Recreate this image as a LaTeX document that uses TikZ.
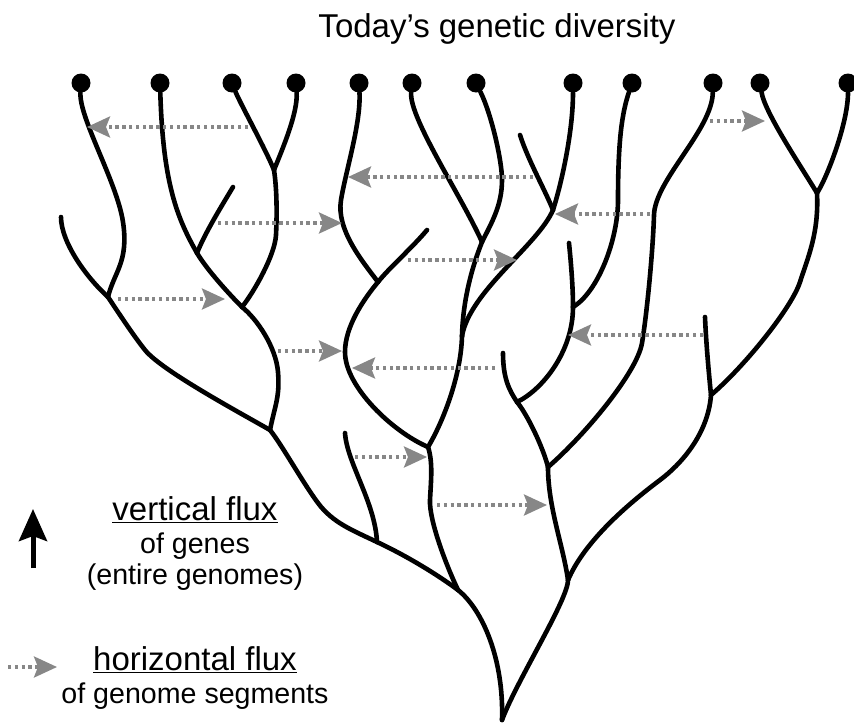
\documentclass[tikz,border=0pt]{standalone}
\usepackage{fontspec}
\setmainfont{Liberation Sans}
\usepackage{tikz}
\usetikzlibrary{arrows.meta}
\definecolor{fluxgray}{RGB}{135,135,135}

\begin{document}
\begin{tikzpicture}[x=1pt, y=-1pt,
    branch/.style={line width=4.6pt, line cap=round, line join=round},
    leaf/.style={circle, fill=black, inner sep=0pt, minimum size=19pt},
    flux/.style={fluxgray, line width=3.4pt, dash pattern=on 3.4pt off 3.4pt,
                 -{Stealth[length=23pt, width=21pt, inset=4pt]}},
    bigtxt/.style={font=\fontsize{33}{40}\selectfont, inner sep=0pt, anchor=base},
    smalltxt/.style={font=\fontsize{28.6}{34}\selectfont, inner sep=0pt, anchor=base}
  ]
  \useasboundingbox (0,0) rectangle (854,723);

  \node[bigtxt] (title) at (497,37) {Today’s genetic diversity};

  % today's lineages
  \foreach \i/\x in {1/81,2/160,3/232,4/296,5/359,6/412,7/476,8/573,9/632,10/713,11/760,12/848}
    \node[leaf] (l\i) at (\x,83) {};

  % extinct stubs
  \coordinate (s1) at (61,217);
  \coordinate (s2) at (233,187);
  \coordinate (s3) at (345,433);
  \coordinate (s4) at (427,230);
  \coordinate (s5) at (520,135);
  \coordinate (s6) at (569,243);
  \coordinate (s7) at (503,353);
  \coordinate (s8) at (705,317);

  % forks
  \coordinate (bA) at (108,297);
  \coordinate (bB) at (270,430);
  \coordinate (bC) at (377,542);
  \coordinate (bD) at (458,590);
  \coordinate (bE) at (428,447);
  \coordinate (bF) at (242,307);
  \coordinate (bG) at (197,253);
  \coordinate (bH) at (274,170);
  \coordinate (bI) at (378,282);
  \coordinate (bJ) at (482,242);
  \coordinate (bK) at (462,336);
  \coordinate (bM) at (553,210);
  \coordinate (bN) at (573,307);
  \coordinate (bO) at (517,402);
  \coordinate (bQ) at (548,467);
  \coordinate (bR) at (568,580);
  \coordinate (bS) at (817,193);
  \coordinate (bT) at (711,395);
  \coordinate (root) at (502,720);

  % left clade
  \draw[branch] (l1) .. controls +(-2,35) and +(-6,-40) .. (123,222)
                     .. controls +(6,40) and +(6,-25) .. (bA);
  \draw[branch] (s1) .. controls +(0,25) and +(-22,-20) .. (bA);
  \draw[branch] (bA) .. controls +(10,15) and +(-12,-15) .. (145,350)
                     .. controls +(16,20) and +(-35,-20) .. (bB);
  \draw[branch] (l2) .. controls +(3,100) and +(-20,-35) .. (bG);
  \draw[branch] (s2) .. controls +(-12,20) and +(8,-20) .. (bG);
  \draw[branch] (bG) .. controls +(10,17) and +(-12,-12) .. (bF);
  \draw[branch] (l3) .. controls +(8,20) and +(-8,-20) .. (bH);
  \draw[branch] (l4) .. controls +(2,30) and +(8,-20) .. (bH);
  \draw[branch] (bH) .. controls +(3,20) and +(1,-20) .. (276,235)
                     .. controls +(-1,20) and +(12,-15) .. (bF);
  \draw[branch] (bF) .. controls +(15,12) and +(-2,-25) .. (278,372)
                     .. controls +(2,25) and +(5,-25) .. (bB);
  \draw[branch] (bB) .. controls +(12,15) and +(-15,-20) .. (318,503)
                     .. controls +(15,20) and +(-25,-12) .. (bC);
  \draw[branch] (s3) .. controls +(2,30) and +(-2,-40) .. (bC);
  \draw[branch] (bC) .. controls +(30,14) and +(-20,-15) .. (bD);

  % middle clade
  \draw[branch] (l5) .. controls +(2,40) and +(5,-30) .. (341,200)
                     .. controls +(-5,30) and +(-15,-20) .. (bI);
  \draw[branch] (s4) .. controls +(-15,18) and +(12,-15) .. (bI);
  \draw[branch] (bI) .. controls +(-15,18) and +(0,-25) .. (345,352)
                     .. controls +(0,35) and +(-35,-15) .. (bE);
  \draw[branch] (l6) .. controls +(-3,35) and +(-20,-45) .. (bJ);
  \draw[branch] (l7) .. controls +(15,30) and +(0,-20) .. (502,180)
                     .. controls +(0,25) and +(10,-20) .. (bJ);
  \draw[branch] (bJ) .. controls +(-8,20) and +(1,-40) .. (bK);
  \draw[branch] (l8) .. controls +(0,50) and +(8,-25) .. (bM);
  \draw[branch] (s5) .. controls +(8,25) and +(-8,-20) .. (bM);
  \draw[branch] (bM) .. controls +(-15,35) and +(8,-45) .. (bK);
  \draw[branch] (bK) .. controls +(-1,40) and +(15,-25) .. (bE);
  \draw[branch] (bE) .. controls +(5,15) and +(1,-20) .. (430,500)
                     .. controls +(-1,20) and +(-12,-25) .. (bD);
  \draw[branch] (bD) .. controls +(25,20) and +(2,-60) .. (root);

  % right clade
  \draw[branch] (l9) .. controls +(-10,30) and +(0,-60) .. (618,200)
                     .. controls +(0,40) and +(25,-15) .. (bN);
  \draw[branch] (s6) .. controls +(2,20) and +(0,-20) .. (bN);
  \draw[branch] (bN) .. controls +(0,45) and +(25,-12) .. (bO);
  \draw[branch] (s7) .. controls +(0,25) and +(-8,-12) .. (bO);
  \draw[branch] (bO) .. controls +(10,12) and +(-5,-20) .. (bQ);
  \draw[branch] (l10) .. controls +(-1,47) and +(1,-35) .. (654,215)
                      .. controls +(-1,35) and +(5,-30) .. (642,343)
                      .. controls +(-5,30) and +(35,-30) .. (bQ);
  \draw[branch] (bQ) .. controls +(0,40) and +(-5,-35) .. (bR);
  \draw[branch] (l11) .. controls +(5,30) and +(-15,-25) .. (bS);
  \draw[branch] (l12) .. controls +(0,40) and +(10,-15) .. (bS);
  \draw[branch] (bS) .. controls +(2,40) and +(8,-25) .. (800,282)
                     .. controls +(-8,25) and +(35,-30) .. (bT);
  \draw[branch] (s8) .. controls +(1,25) and +(-2,-20) .. (bT);
  \draw[branch] (bT) .. controls +(-3,40) and +(20,-15) .. (660,480)
                     .. controls +(-40,30) and +(15,-35) .. (bR);
  \draw[branch] (bR) .. controls +(0,20) and +(15,-40) .. (root);

  % horizontal transfers
  \foreach \n/\xa/\xb/\yy in {1/248/87/127, 2/710/765/121, 3/533/348/177,
      4/218/342/223, 5/650/555/214, 6/408/517/260, 7/118/225/299,
      8/703/568/335, 9/278/342/351, 10/495/352/368, 11/355/427/457,
      12/437/547/505} {
    \coordinate (hs\n) at (\xa,\yy);
    \coordinate (ht\n) at (\xb,\yy);
    \draw[flux] (hs\n) -- (ht\n);
  }

  % legend
  \coordinate (vs) at (33,568);
  \coordinate (vt) at (33,509);
  \draw[line width=5pt, -{Stealth[length=32pt, width=28pt, inset=5pt]}] (vs) -- (vt);
  \node[bigtxt] (vf1) at (195,520) {\underline{vertical flux}};
  \node[smalltxt] (vf2) at (195,553) {of genes};
  \node[smalltxt] (vf3) at (195,584) {(entire genomes)};

  \coordinate (fs) at (8,667);
  \coordinate (ft) at (57,667);
  \draw[flux] (fs) -- (ft);
  \node[bigtxt] (hf1) at (195,670) {\underline{horizontal flux}};
  \node[smalltxt] (hf2) at (195,703) {of genome segments};
\end{tikzpicture}
\end{document}
